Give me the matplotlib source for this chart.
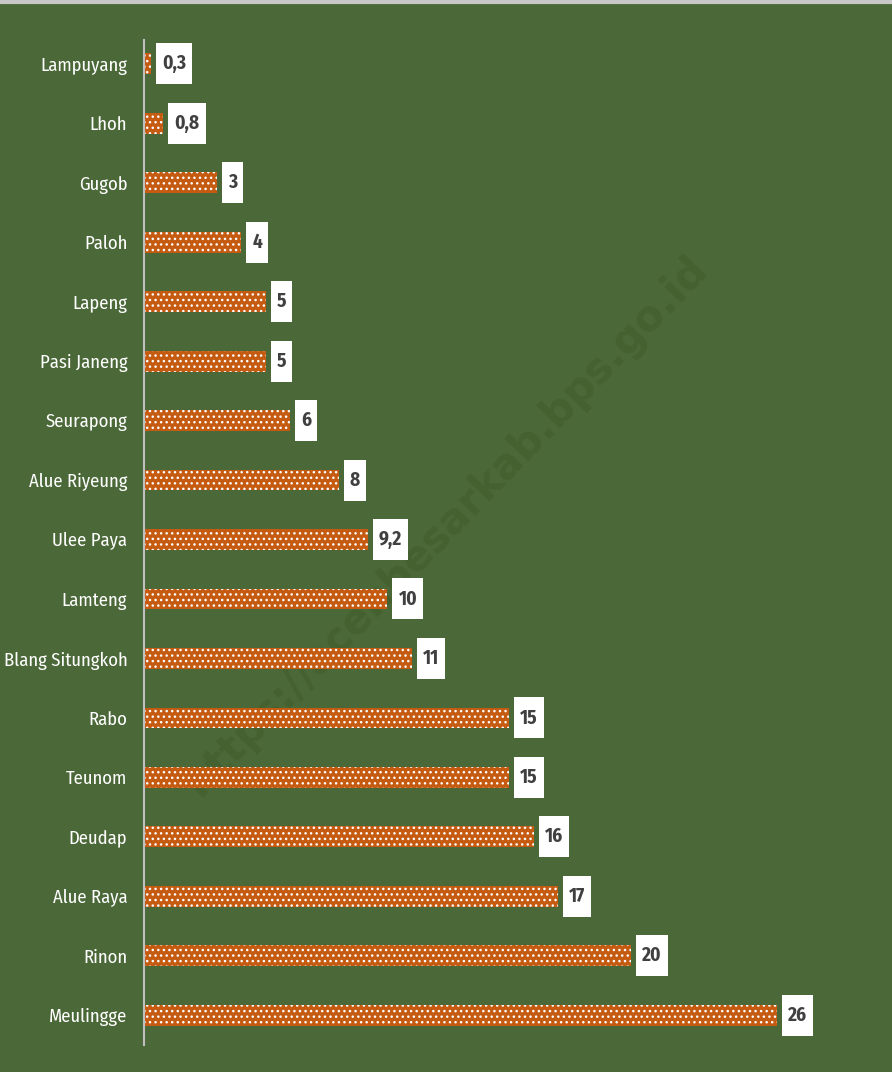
import matplotlib
matplotlib.use("Agg")
import matplotlib.pyplot as plt
from matplotlib import font_manager
from matplotlib.font_manager import FontProperties
from matplotlib.path import Path

categories = ["Lampuyang", "Lhoh", "Gugob", "Paloh", "Lapeng", "Pasi Janeng",
              "Seurapong", "Alue Riyeung", "Ulee Paya", "Lamteng", "Blang Situngkoh",
              "Rabo", "Teunom", "Deudap", "Alue Raya", "Rinon", "Meulingge"]
values = [0.3, 0.8, 3, 4, 5, 5, 6, 8, 9.2, 10, 11, 15, 15, 16, 17, 20, 26]
value_labels = ["0,3", "0,8", "3", "4", "5", "5", "6", "8", "9,2", "10", "11",
                "15", "15", "16", "17", "20", "26"]

files = {f.fname.split('/')[-1]: f.fname for f in font_manager.fontManager.ttflist}


def pick(names, fallback):
    for n in names:
        if n in files:
            return FontProperties(fname=files[n])
    return fallback


fp_reg = pick(["OpenSans_Condensed-Regular.ttf", "OpenSansCondensed-Regular.ttf",
               "FiraSansCondensed-Regular.ttf", "AsapCondensed-Regular.ttf"],
              FontProperties(family="Open Sans"))
fp_bold = pick(["OpenSans_Condensed-Bold.ttf", "OpenSansCondensed-Bold.ttf",
                "FiraSansCondensed-Bold.ttf", "AsapCondensed-Bold.ttf"],
               FontProperties(family="Open Sans", weight="bold"))

BG = "#4b6838"
ORANGE = "#c55a11"

fig = plt.figure(figsize=(8.92, 10.72), dpi=100, facecolor=BG)
ax = fig.add_axes([0.1614, 0.0252, 0.819, 0.9375])
ax.set_facecolor(BG)
renderer = fig.canvas.get_renderer()


def size_for(text, fp, target_w):
    t = fig.text(0, 0, text, fontproperties=fp)
    t.set_fontsize(20)
    w = t.get_window_extent(renderer).width
    t.remove()
    return 20 * target_w / w


cat_size = size_for("Blang Situngkoh", fp_reg, 112) * 1.1
val_size = size_for("26", fp_bold, 17) * 1.12

ax.text(0.5, 0.51, "https://acehbesarkab.bps.go.id", rotation=46,
        ha="center", va="center", fontsize=30, fontweight="bold",
        color="#45612f", family="DejaVu Sans", zorder=1,
        transform=fig.transFigure)

pos = list(range(len(categories)))
ax.barh(pos, values, height=0.35, color=ORANGE, edgecolor="white",
        linewidth=0, hatch="...", zorder=2)


def label_box(x0, y0, width, height, mutation_size):
    padx = 6
    cy = y0 + height / 2
    h = 41
    xa, xb = x0 - padx, x0 + width + padx
    ya, yb = cy - h / 2, cy + h / 2
    return Path([(xa, ya), (xb, ya), (xb, yb), (xa, yb), (xa, ya)],
                [Path.MOVETO, Path.LINETO, Path.LINETO, Path.LINETO, Path.CLOSEPOLY])


for p, v, lab in zip(pos, values, value_labels):
    t = ax.annotate(lab, xy=(v, p), xytext=(11, 0), textcoords="offset pixels",
                    ha="left", va="center", fontproperties=fp_bold, color="#404040", zorder=4,
                    bbox=dict(boxstyle=label_box, fc="white", ec="none"))
    t.set_fontsize(val_size)

ax.set_xlim(0, 30)
ax.set_ylim(16.5, -0.4)
ax.set_yticks(pos)
ax.set_yticklabels(categories, color="white")
for lbl in ax.get_yticklabels():
    lbl.set_fontproperties(fp_reg)
    lbl.set_fontsize(cat_size)
ax.tick_params(axis="y", length=0, pad=12)
ax.set_xticks([])
for s in ["top", "right", "bottom"]:
    ax.spines[s].set_visible(False)
ax.spines["left"].set_color("#bfbfbf")
ax.spines["left"].set_linewidth(1.5)

fig.add_artist(plt.Line2D([0, 1], [0.998, 0.998], transform=fig.transFigure,
                          color="#c8c8c8", linewidth=3))

fig.savefig("out.png", dpi=100, facecolor=BG)
